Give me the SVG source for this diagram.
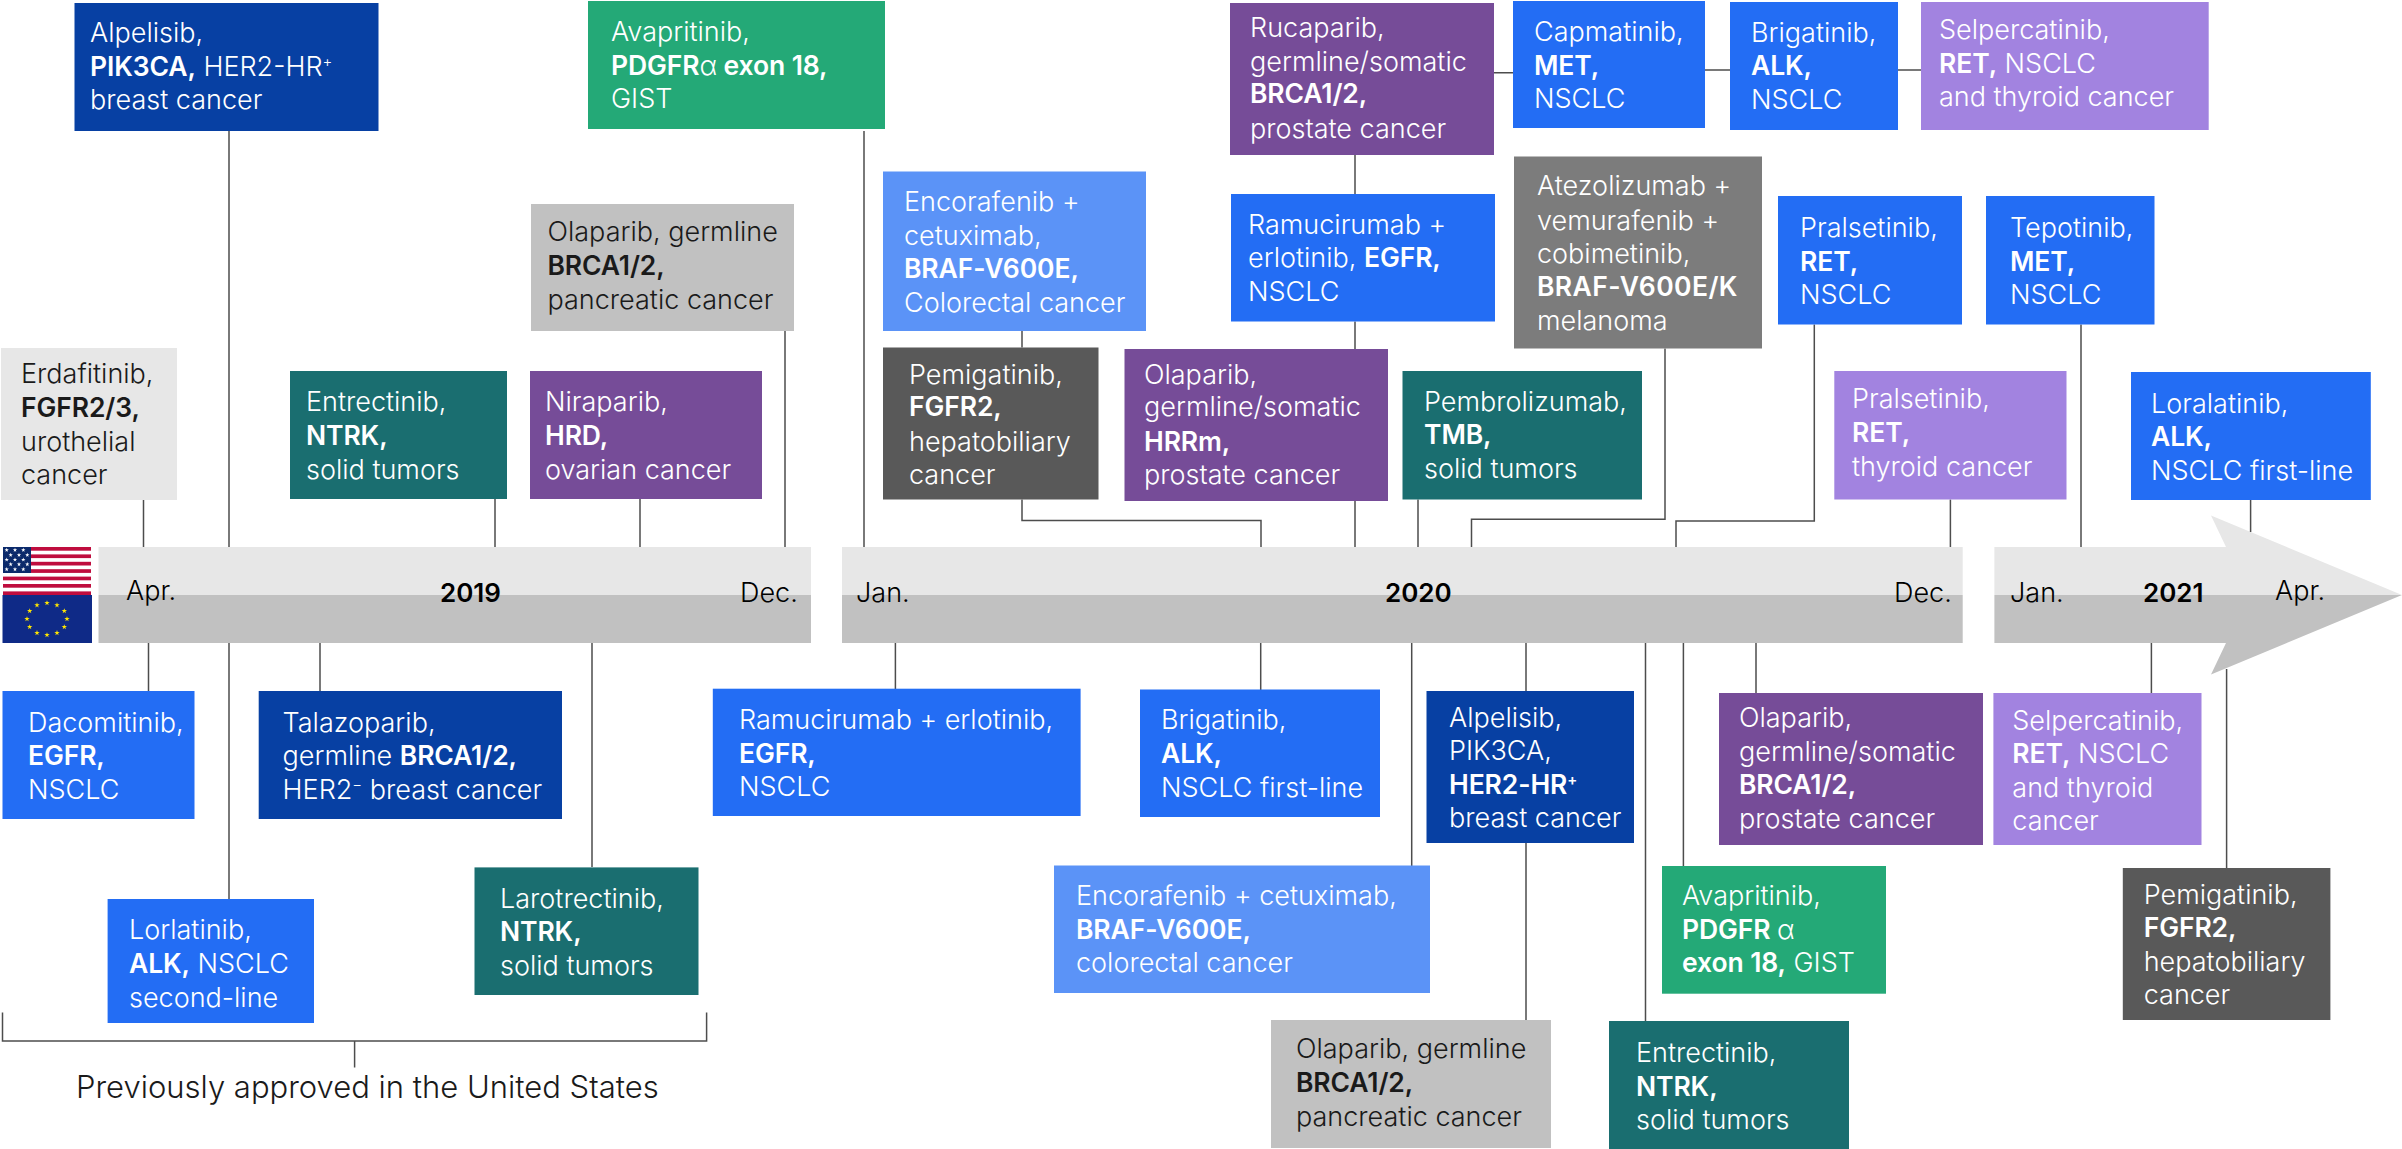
<svg xmlns="http://www.w3.org/2000/svg" width="2402" height="1149" viewBox="0 0 2402 1149">
<style>
text{font-family:"Inter","Liberation Sans",sans-serif;font-size:27px;font-weight:300;fill:#fff}
.k{fill:#1a1a1a}
.b{font-weight:600;font-size:26.5px;letter-spacing:-.1px}
.sup{font-size:15px;baseline-shift:9px}
.y{font-weight:600;font-size:26px;fill:#000}
.m{fill:#000;font-weight:300}
.l{fill:none;stroke:#4d4d4d;stroke-width:1.5}
.db{fill:#0740A3}.bl{fill:#236DF4}.lb{fill:#5B93F7}.te{fill:#1A6E70}.pu{fill:#764C98}.li{fill:#A283E0}.gr{fill:#24A977}.dg{fill:#595959}.mg{fill:#7C7C7C}.lg{fill:#C1C1C1}.vg{fill:#E7E7E7}
</style>
<defs>
<polygon id="star" points="0,-2.8 0.65,-0.9 2.7,-0.9 1.05,0.35 1.65,2.3 0,1.1 -1.65,2.3 -1.05,0.35 -2.7,-0.9 -0.65,-0.9"/>
<use id="ws" href="#star" fill="#fff" transform="scale(.8)"/>
</defs>

<g id="timeline">
<rect class="vg" x="98.5" y="547" width="712.5" height="48"/><rect class="lg" x="98.5" y="595" width="712.5" height="48"/>
<rect class="vg" x="842" y="547" width="1120.7" height="48"/><rect class="lg" x="842" y="595" width="1120.7" height="48"/>
<polygon class="vg" points="1994.4,547 2226,547 2211,515.5 2402,595 1994.4,595"/>
<polygon class="lg" points="1994.4,595 2402,595 2211,674.5 2226,643 1994.4,643"/>
<text class="m" x="126" y="599.5">Apr.</text>
<text class="y" x="440" y="602">2019</text>
<text class="m" x="740" y="602">Dec.</text>
<text class="m" x="856" y="602">Jan.</text>
<text class="y" x="1385" y="602">2020</text>
<text class="m" x="1894" y="602">Dec.</text>
<text class="m" x="2010" y="602">Jan.</text>
<text class="y" x="2143" y="602">2021</text>
<text class="m" x="2275" y="599.5">Apr.</text>
</g>

<g id="flag-us">
<rect x="3" y="547" width="88" height="48" fill="#fff"/>
<g fill="#BF0D3E"><rect x="3" y="547" width="88" height="3.7"/><rect x="3" y="554.4" width="88" height="3.7"/><rect x="3" y="561.8" width="88" height="3.7"/><rect x="3" y="569.2" width="88" height="3.7"/><rect x="3" y="576.6" width="88" height="3.7"/><rect x="3" y="584" width="88" height="3.7"/><rect x="3" y="591.4" width="88" height="3.6"/></g>
<rect x="3" y="547" width="28" height="26" fill="#0B2A6B"/>
<use href="#ws" x="0" y="0" transform="translate(6.7 550)"/><use href="#ws" transform="translate(15 550)"/><use href="#ws" transform="translate(23.3 550)"/>
<use href="#ws" transform="translate(10.7 555)"/><use href="#ws" transform="translate(19 555)"/><use href="#ws" transform="translate(27.3 555)"/>
<use href="#ws" transform="translate(6.7 559.7)"/><use href="#ws" transform="translate(15 559.7)"/><use href="#ws" transform="translate(23.3 559.7)"/>
<use href="#ws" transform="translate(10.7 564.3)"/><use href="#ws" transform="translate(19 564.3)"/><use href="#ws" transform="translate(27.3 564.3)"/>
<use href="#ws" transform="translate(6.7 569.3)"/><use href="#ws" transform="translate(15 569.3)"/><use href="#ws" transform="translate(23.3 569.3)"/>
</g>
<g id="flag-eu">
<rect x="2.5" y="595" width="89.5" height="48" fill="#0F2A87"/>
<g fill="#FFE600"><use href="#star" x="47" y="603"/><use href="#star" x="57" y="605.1"/><use href="#star" x="64.3" y="611"/><use href="#star" x="67" y="619"/><use href="#star" x="64.3" y="627"/><use href="#star" x="57" y="632.9"/><use href="#star" x="47" y="635"/><use href="#star" x="37" y="632.9"/><use href="#star" x="29.7" y="627"/><use href="#star" x="27" y="619"/><use href="#star" x="29.7" y="611"/><use href="#star" x="37" y="605.1"/></g>
</g>

<g id="connectors">
<path class="l" d="M143.5 500V547M229 131V547M495 499V547M640 499V547M785 331V547M864 131V547"/>
<path class="l" d="M1022 331V347.5M1022 499.5V520.5H1261V547M1355 155V194M1355 321.5V349M1355 501V547M1418 499.5V547M1665 348.6V519.3H1471.5V547M1814.3 324.5V521H1676V547M2081 324.5V547M1950.4 499.5V547M2250.6 500V532"/>
<path class="l" d="M1494 72.7H1513M1705 70H1730M1898 70H1921"/>
<path class="l" d="M148.5 643V691M229 643V899M320 643V691M592 643V867M895.4 643V689M1260.7 643V690M1411.7 643V866M1526 643V691M1526 843V1020M1645.5 643V1021M1683.4 643V866M1756 643V693M2151.4 643V693M2226.6 669V868"/>
<path class="l" d="M2.5 1012.5V1041H706.6V1012.5M354.6 1041V1067.6"/>
</g>

<g id="n-alpelisib-us"><rect class="db" x="74.5" y="3" width="304" height="128"/><text><tspan x="90" y="42">Alpelisib,</tspan><tspan x="90" y="75.5" class="b">PIK3CA,</tspan><tspan> HER2-HR</tspan><tspan class="sup">+</tspan><tspan x="90" y="109">breast cancer</tspan></text></g>
<g id="n-avapritinib-us"><rect class="gr" x="588" y="1" width="297" height="128"/><text><tspan x="611" y="41">Avapritinib,</tspan><tspan x="611" y="74.6" class="b">PDGFR</tspan><tspan>α</tspan><tspan class="b"> exon 18,</tspan><tspan x="611" y="108">GIST</tspan></text></g>
<g id="n-olaparib-us"><rect class="lg" x="531" y="204" width="263" height="127"/><text class="k"><tspan class="k" x="547.5" y="241">Olaparib, germline</tspan><tspan class="k b" x="547.5" y="275">BRCA1/2,</tspan><tspan class="k" x="547.5" y="309">pancreatic cancer</tspan></text></g>
<g id="n-erdafitinib-us"><rect class="vg" x="1" y="348" width="176" height="152"/><text class="k"><tspan class="k" x="21" y="383">Erdafitinib,</tspan><tspan class="k b" x="21" y="417">FGFR2/3,</tspan><tspan class="k" x="21" y="451">urothelial</tspan><tspan class="k" x="21" y="484">cancer</tspan></text></g>
<g id="n-entrectinib-us"><rect class="te" x="290" y="371" width="217" height="128"/><text><tspan x="306" y="411">Entrectinib,</tspan><tspan x="306" y="445" class="b">NTRK,</tspan><tspan x="306" y="479">solid tumors</tspan></text></g>
<g id="n-niraparib-us"><rect class="pu" x="530" y="371" width="232" height="128"/><text><tspan x="545" y="411">Niraparib,</tspan><tspan x="545" y="445" class="b">HRD,</tspan><tspan x="545" y="479">ovarian cancer</tspan></text></g>
<g id="n-encorafenib-us"><rect class="lb" x="883" y="171.5" width="263" height="159.5"/><text><tspan x="904" y="211">Encorafenib +</tspan><tspan x="904" y="245">cetuximab,</tspan><tspan x="904" y="278" class="b">BRAF-V600E,</tspan><tspan x="904" y="312">Colorectal cancer</tspan></text></g>
<g id="n-pemigatinib-us"><rect class="dg" x="883" y="347.5" width="215.5" height="152"/><text><tspan x="909" y="383.5">Pemigatinib,</tspan><tspan x="909" y="416" class="b">FGFR2,</tspan><tspan x="909" y="451">hepatobiliary</tspan><tspan x="909" y="484">cancer</tspan></text></g>
<g id="n-rucaparib-us"><rect class="pu" x="1230" y="3" width="264" height="152"/><text><tspan x="1250" y="37">Rucaparib,</tspan><tspan x="1250" y="71">germline/somatic</tspan><tspan x="1250" y="103" class="b">BRCA1/2,</tspan><tspan x="1250" y="138">prostate cancer</tspan></text></g>
<g id="n-ramucirumab-us"><rect class="bl" x="1231" y="194" width="264" height="127.5"/><text><tspan x="1248" y="234">Ramucirumab +</tspan><tspan x="1248" y="267">erlotinib, </tspan><tspan class="b">EGFR,</tspan><tspan x="1248" y="301">NSCLC</tspan></text></g>
<g id="n-olaparib-som-us"><rect class="pu" x="1124.5" y="349" width="263.5" height="152"/><text><tspan x="1144" y="383.5">Olaparib,</tspan><tspan x="1144" y="416">germline/somatic</tspan><tspan x="1144" y="450.5" class="b">HRRm,</tspan><tspan x="1144" y="484">prostate cancer</tspan></text></g>
<g id="n-pembrolizumab-us"><rect class="te" x="1402.5" y="371" width="239.5" height="128.5"/><text><tspan x="1424" y="411">Pembrolizumab,</tspan><tspan x="1424" y="444" class="b">TMB,</tspan><tspan x="1424" y="478">solid tumors</tspan></text></g>
<g id="n-atezolizumab-us"><rect class="mg" x="1514" y="156.5" width="248" height="192"/><text><tspan x="1537" y="195">Atezolizumab +</tspan><tspan x="1537" y="229.6">vemurafenib +</tspan><tspan x="1537" y="263">cobimetinib,</tspan><tspan x="1537" y="296" class="b" style="letter-spacing:.4px">BRAF-V600E/K</tspan><tspan x="1537" y="330">melanoma</tspan></text></g>
<g id="n-capmatinib-us"><rect class="bl" x="1513" y="1" width="192" height="127"/><text><tspan x="1534" y="41">Capmatinib,</tspan><tspan x="1534" y="75" class="b">MET,</tspan><tspan x="1534" y="108">NSCLC</tspan></text></g>
<g id="n-brigatinib-us"><rect class="bl" x="1730" y="2" width="168" height="128"/><text><tspan x="1751" y="42">Brigatinib,</tspan><tspan x="1751" y="75" class="b">ALK,</tspan><tspan x="1751" y="109">NSCLC</tspan></text></g>
<g id="n-selpercatinib-us"><rect class="li" x="1921" y="2" width="287.7" height="128"/><text><tspan x="1939" y="39.4">Selpercatinib,</tspan><tspan x="1939" y="72.7" class="b">RET,</tspan><tspan> NSCLC</tspan><tspan x="1939" y="106.4">and thyroid cancer</tspan></text></g>
<g id="n-pralsetinib-us"><rect class="bl" x="1778" y="196" width="184" height="128.5"/><text><tspan x="1800" y="237">Pralsetinib,</tspan><tspan x="1800" y="270.6" class="b">RET,</tspan><tspan x="1800" y="304">NSCLC</tspan></text></g>
<g id="n-tepotinib-us"><rect class="bl" x="1986" y="196" width="168.5" height="128.5"/><text><tspan x="2010" y="237">Tepotinib,</tspan><tspan x="2010" y="270.6" class="b">MET,</tspan><tspan x="2010" y="304">NSCLC</tspan></text></g>
<g id="n-pralsetinib2-us"><rect class="li" x="1834.3" y="371" width="232.2" height="128.5"/><text><tspan x="1852" y="408">Pralsetinib,</tspan><tspan x="1852" y="442" class="b">RET,</tspan><tspan x="1852" y="476">thyroid cancer</tspan></text></g>
<g id="n-loralatinib-us"><rect class="bl" x="2131" y="372" width="239.8" height="128"/><text><tspan x="2151" y="412.5">Loralatinib,</tspan><tspan x="2151" y="446" class="b">ALK,</tspan><tspan x="2151" y="479.5">NSCLC first-line</tspan></text></g>

<g id="n-dacomitinib-eu"><rect class="bl" x="2.5" y="691" width="192" height="128"/><text><tspan x="28" y="731.5">Dacomitinib,</tspan><tspan x="28" y="765" class="b">EGFR,</tspan><tspan x="28" y="799">NSCLC</tspan></text></g>
<g id="n-talazoparib-eu"><rect class="db" x="258.7" y="691" width="303.3" height="128"/><text><tspan x="282.6" y="731.5">Talazoparib,</tspan><tspan x="282.6" y="765">germline </tspan><tspan class="b">BRCA1/2,</tspan><tspan x="282.6" y="799">HER2</tspan><tspan class="sup">−</tspan><tspan> breast cancer</tspan></text></g>
<g id="n-lorlatinib-eu"><rect class="bl" x="107.6" y="899" width="206.4" height="124"/><text><tspan x="129" y="939.4">Lorlatinib,</tspan><tspan x="129" y="973" class="b">ALK,</tspan><tspan> NSCLC</tspan><tspan x="129" y="1006.7">second-line</tspan></text></g>
<g id="n-larotrectinib-eu"><rect class="te" x="474.5" y="867.4" width="224" height="127.6"/><text><tspan x="500" y="907.6">Larotrectinib,</tspan><tspan x="500" y="941" class="b">NTRK,</tspan><tspan x="500" y="975">solid tumors</tspan></text></g>
<g id="n-ramucirumab-eu"><rect class="bl" x="712.8" y="688.7" width="367.8" height="127.3"/><text><tspan x="739" y="729">Ramucirumab + erlotinib,</tspan><tspan x="739" y="762.5" class="b">EGFR,</tspan><tspan x="739" y="796">NSCLC</tspan></text></g>
<g id="n-brigatinib-eu"><rect class="bl" x="1140" y="689.5" width="240" height="127.5"/><text><tspan x="1161" y="729">Brigatinib,</tspan><tspan x="1161" y="762.5" class="b">ALK,</tspan><tspan x="1161" y="796.6">NSCLC first-line</tspan></text></g>
<g id="n-encorafenib-eu"><rect class="lb" x="1054" y="865.5" width="376" height="127.5"/><text><tspan x="1076" y="905">Encorafenib + cetuximab,</tspan><tspan x="1076" y="938.6" class="b">BRAF-V600E,</tspan><tspan x="1076" y="972">colorectal cancer</tspan></text></g>
<g id="n-alpelisib-eu"><rect class="db" x="1426.5" y="691" width="207.5" height="152"/><text><tspan x="1449" y="727">Alpelisib,</tspan><tspan x="1449" y="760">PIK3CA,</tspan><tspan x="1449" y="794" class="b">HER2-HR</tspan><tspan class="sup b">+</tspan><tspan x="1449" y="827">breast cancer</tspan></text></g>
<g id="n-olaparib-eu"><rect class="lg" x="1271" y="1020" width="280" height="128"/><text class="k"><tspan class="k" x="1296" y="1058">Olaparib, germline</tspan><tspan class="k b" x="1296" y="1092.4">BRCA1/2,</tspan><tspan class="k" x="1296" y="1126">pancreatic cancer</tspan></text></g>
<g id="n-entrectinib-eu"><rect class="te" x="1609" y="1021" width="240" height="128"/><text><tspan x="1636" y="1062">Entrectinib,</tspan><tspan x="1636" y="1095.5" class="b">NTRK,</tspan><tspan x="1636" y="1129">solid tumors</tspan></text></g>
<g id="n-avapritinib-eu"><rect class="gr" x="1662" y="866" width="224" height="127.7"/><text><tspan x="1682" y="905">Avapritinib,</tspan><tspan x="1682" y="938.6" class="b">PDGFR </tspan><tspan>α</tspan><tspan x="1682" y="972" class="b">exon 18,</tspan><tspan> GIST</tspan></text></g>
<g id="n-olaparib-som-eu"><rect class="pu" x="1719" y="693" width="264" height="152"/><text><tspan x="1739" y="727">Olaparib,</tspan><tspan x="1739" y="760.6">germline/somatic</tspan><tspan x="1739" y="794" class="b">BRCA1/2,</tspan><tspan x="1739" y="827.6">prostate cancer</tspan></text></g>
<g id="n-selpercatinib-eu"><rect class="li" x="1993.4" y="693" width="208.1" height="152"/><text><tspan x="2012.3" y="729.6">Selpercatinib,</tspan><tspan x="2012.3" y="762.5" class="b">RET,</tspan><tspan> NSCLC</tspan><tspan x="2012.3" y="796.6">and thyroid</tspan><tspan x="2012.3" y="829.5">cancer</tspan></text></g>
<g id="n-pemigatinib-eu"><rect class="dg" x="2122.8" y="868" width="207.6" height="152"/><text><tspan x="2143.7" y="904">Pemigatinib,</tspan><tspan x="2143.7" y="937.4" class="b">FGFR2,</tspan><tspan x="2143.7" y="971">hepatobiliary</tspan><tspan x="2143.7" y="1004.4">cancer</tspan></text></g>

<g id="caption"><text style="fill:#1a1a1a;font-size:31px" x="76" y="1098">Previously approved in the United States</text></g>
</svg>
